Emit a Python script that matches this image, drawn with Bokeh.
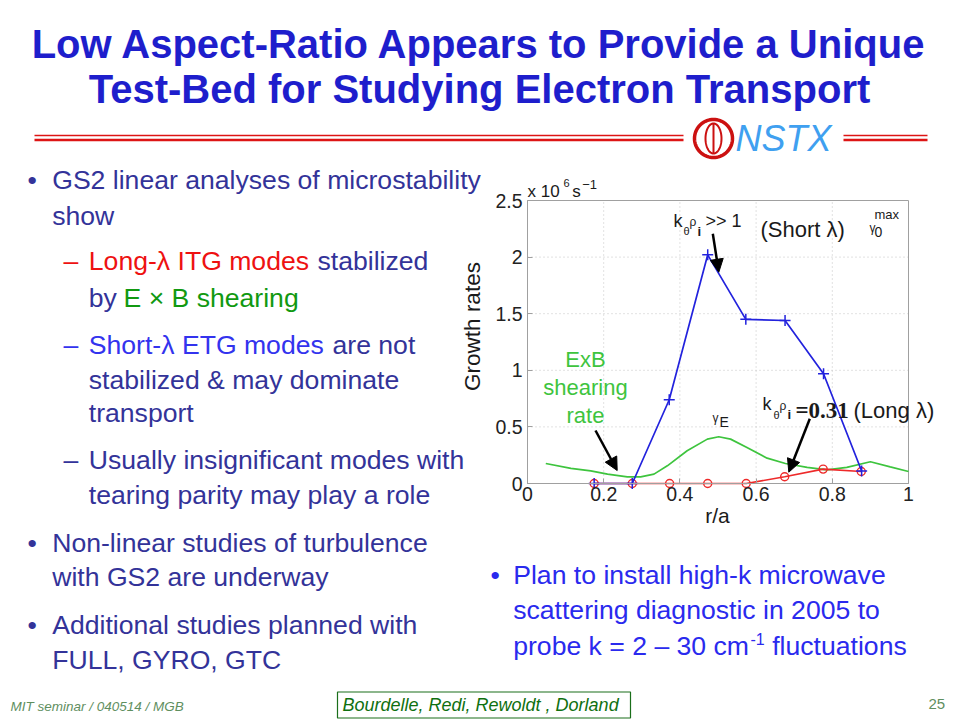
import numpy as np
from bokeh.plotting import figure
from bokeh.models import (Label, Arrow, NormalHead, PolyAnnotation, FixedTicker,
                          LinearAxis, Range1d)
from bokeh.embed import file_html
from bokeh.resources import INLINE

# ---------------- data ----------------
r_short = [0.175, 0.275, 0.372, 0.473, 0.573, 0.676, 0.777, 0.877]
gamma_short = [0.0, 0.0, 0.74, 2.02, 1.45, 1.44, 0.97, 0.11]

r_long = [0.175, 0.275, 0.373, 0.473, 0.574, 0.675, 0.776, 0.876]
gamma_long = [0.0, 0.0, 0.0, 0.0, 0.0, 0.06, 0.127, 0.106]

r_exb = [0.048, 0.114, 0.166, 0.21, 0.262, 0.297, 0.332, 0.367, 0.419, 0.472, 0.502,
         0.533, 0.576, 0.629, 0.677, 0.734, 0.786, 0.838, 0.9, 0.952, 1.0]
gamma_exb = [0.177, 0.133, 0.112, 0.083, 0.059, 0.059, 0.083, 0.156, 0.289, 0.392, 0.413,
             0.392, 0.318, 0.224, 0.177, 0.142, 0.121, 0.142, 0.192, 0.147, 0.106]

x_ticks = [0, 0.2, 0.4, 0.6, 0.8, 1]
x_tick_labels = ["0", "0.2", "0.4", "0.6", "0.8", "1"]
y_ticks = [0, 0.5, 1, 1.5, 2, 2.5]
y_tick_labels = ["0", "0.5", "1", "1.5", "2", "2.5"]

# ---------------- canvas: whole slide, in slide pixels ----------------
W, H = 960, 720
FL, FR, FT, FB = 527, 908, 200, 483   # chart box in slide pixels
XMAX = x_ticks[-1]
YMAX = y_ticks[-1]
SX = (FR - FL) / XMAX
SY = (FB - FT) / YMAX

p = figure(width=W, height=H, x_range=Range1d(0, W), y_range=Range1d(H, 0),
           x_axis_type=None, y_axis_type=None, title=None, min_border=0,
           output_backend="svg", toolbar_location=None)
p.background_fill_color = "white"
p.border_fill_color = "white"
p.outline_line_color = None
p.extra_x_ranges = {"r": Range1d(-FL / SX, (W - FL) / SX)}
p.extra_y_ranges = {"g": Range1d(-(H - FB) / SY, FB / SY)}
CH = dict(x_range_name="r", y_range_name="g")

SANS = "Liberation Sans"
SERIF = "Liberation Serif"
BASE_K = 0.346   # label box is centred on y; shift so that wy is the text baseline


def lab(text, wx, wy, size, color, align="left", style="normal", font=SANS,
        baseline="alphabetic", angle=0.0):
    y = wy - BASE_K * size if baseline == "alphabetic" else wy
    p.add_layout(Label(x=wx, y=y, text=text, text_font=font, text_font_size=f"{size}px",
                       text_color=color, text_align=align, text_baseline=baseline,
                       text_font_style=style, angle=angle))


def poly(pts, fill=None, line=None, lw=1.0):
    p.add_layout(PolyAnnotation(xs=[a for a, b in pts], ys=[b for a, b in pts],
                                fill_color=fill if fill else "white",
                                fill_alpha=1.0 if fill else 0.0,
                                line_color=line if line else "white",
                                line_width=lw, line_alpha=1.0 if line else 0.0))


def rect(x0, x1, y0, y1, color):
    poly([(x0, y0), (x1, y0), (x1, y1), (x0, y1)], fill=color)


def ellipse(cx, cy, rx, ry, n=72):
    t = np.linspace(0, 2 * np.pi, n, endpoint=False)
    return list(zip(cx + rx * np.cos(t), cy + ry * np.sin(t)))


def arrow(x0, y0, x1, y1):
    p.add_layout(Arrow(x_start=x0, y_start=y0, x_end=x1, y_end=y1,
                       line_color="black", line_width=2.5,
                       end=NormalHead(size=13, fill_color="black", line_color="black")))


# ---------------- chart ----------------
AXC = "#a0a0a0"
gx = x_ticks[1:-1]
gy = y_ticks[1:-1]
p.segment(x0=gx, y0=[y_ticks[0]] * len(gx), x1=gx, y1=[YMAX] * len(gx),
          line_color="#c4c4c4", line_dash="1 3", line_width=1, **CH)
p.segment(x0=[x_ticks[0]] * len(gy), y0=gy, x1=[XMAX] * len(gy), y1=gy,
          line_color="#c4c4c4", line_dash="1 3", line_width=1, **CH)
p.quad(left=[x_ticks[0]], right=[XMAX], bottom=[y_ticks[0]], top=[YMAX],
       fill_color=None, line_color=AXC, line_width=1, **CH)

xaxis = LinearAxis(fixed_location=y_ticks[0], bounds=(x_ticks[0], XMAX),
                   ticker=FixedTicker(ticks=x_ticks),
                   major_label_overrides=dict(zip(x_ticks, x_tick_labels)), **CH)
yaxis = LinearAxis(fixed_location=x_ticks[0], bounds=(y_ticks[0], YMAX),
                   ticker=FixedTicker(ticks=y_ticks),
                   major_label_overrides=dict(zip(y_ticks, y_tick_labels)), **CH)
for ax in (xaxis, yaxis):
    ax.axis_line_color = AXC
    ax.major_tick_line_color = AXC
    ax.major_tick_in = 5
    ax.major_tick_out = 0
    ax.minor_tick_line_color = None
    ax.major_label_text_font = SANS
    ax.major_label_text_font_size = "19.5px"
    ax.major_label_text_color = "#222222"
xaxis.major_label_standoff = 3
yaxis.major_label_standoff = 5
p.add_layout(xaxis, "below")
p.add_layout(yaxis, "left")

GREEN_L = "#3ec43e"
RED_L = "#ee2a2a"
BLUE_L = "#2222dd"
p.line(r_exb, gamma_exb, line_color=GREEN_L, line_width=1.7, **CH)
p.line(r_long, gamma_long, line_color=RED_L, line_width=1.6, **CH)
p.scatter(r_long, gamma_long, marker="circle", size=8, line_color=RED_L,
          fill_color=None, line_width=1.4, **CH)
p.line(r_short, gamma_short, line_color=BLUE_L, line_width=1.7, **CH)
p.scatter(r_short, gamma_short, marker="cross", size=11, line_color=BLUE_L,
          line_width=1.5, **CH)

INK = "#1a1a1a"
lab("Growth rates", 472, 326, 22.5, INK, align="center", baseline="middle", angle=np.pi / 2)
lab("r/a", 717, 522, 21, INK, align="center")

lab("x 10", 527, 196.7, 17, INK)
lab("6", 563, 186.7, 11, INK)
lab("s", 571.7, 196.7, 17, INK)
lab("\u22121", 581.7, 188, 13, INK)

lab("k", 673, 227, 18, INK)
lab("\u03b8", 683, 234, 11, INK)
lab("\u03c1", 689, 226, 12, INK)
lab("i", 697, 235, 13, INK, style="bold")
lab(">> 1", 705, 227, 18, INK)
lab("(Short \u03bb)", 760, 236.7, 22, INK)
lab("\u03b3", 869, 232, 12, INK)
lab("0", 874, 236.7, 14, INK)
lab("max", 874, 218, 13, INK)

lab("k", 762, 410, 18, INK)
lab("\u03b8", 773, 418, 11, INK)
lab("\u03c1", 779, 410, 12, INK)
lab("i", 787, 418, 13, INK, style="bold")
lab("=0.31", 795, 418, 23, INK, style="bold", font=SERIF)
lab("(Long \u03bb)", 853, 418, 22, INK)

lab("\u03b3", 712, 422, 12, INK)
lab("E", 719, 426.7, 14, INK)

lab("ExB", 585, 366.7, 22, GREEN_L, align="center")
lab("shearing", 585, 395, 22, GREEN_L, align="center")
lab("rate", 585, 423, 22, GREEN_L, align="center")

arrow(712.3, 233.3, 718.3, 271.7)
arrow(595, 430, 616.7, 470)
arrow(809.3, 418.3, 788.3, 471.7)

# ---------------- slide decoration ----------------
TITLE_C = "#1e1ecc"
lab("Low Aspect-Ratio Appears to Provide a Unique", 479, 57, 40, TITLE_C, align="center", style="bold")
lab("Test-Bed for Studying Electron Transport", 479, 102.5, 40, TITLE_C, align="center", style="bold")

RULE = "#dd1515"
rect(34, 683, 134.3, 135.7, RULE)
rect(34, 683, 138.2, 140.8, RULE)
rect(843, 927, 134.3, 135.7, RULE)
rect(843, 927, 138.2, 140.8, RULE)

LOGO = "#cc1111"
poly(ellipse(713, 138, 19, 19), fill="white", line=LOGO, lw=3.5)
poly(ellipse(713, 138, 8, 15), line=LOGO, lw=2)
rect(712, 714, 123, 153, LOGO)
lab("NSTX", 735, 150, 36, "#3fa0f0", style="italic")

# body text
NAVY = "#333399"
RED = "#ee1111"
GREEN = "#119911"
BLUE = "#3333ee"
BBLUE = "#2a2aee"
FS = 26.6

lab("\u2022", 27, 189, FS, NAVY)
lab("GS2 linear analyses of microstability", 51.7, 189, FS, NAVY)
lab("show", 51.7, 225, FS, NAVY)
lab("\u2013", 63, 270, FS, RED)
lab("Long-\u03bb ITG modes", 88.3, 270, FS, RED)
lab("stabilized", 317, 270, FS, NAVY)
lab("by", 88.3, 306.7, FS, NAVY)
lab("E \u00d7 B shearing", 123, 306.7, FS, GREEN)
lab("\u2013", 63, 353.3, FS, BLUE)
lab("Short-\u03bb ETG modes", 88.3, 353.3, FS, BLUE)
lab("are not", 332, 353.3, FS, NAVY)
lab("stabilized & may dominate", 88.3, 388.3, FS, NAVY)
lab("transport", 88.3, 421.7, FS, NAVY)
lab("\u2013", 63, 468.3, FS, NAVY)
lab("Usually insignificant modes with", 88.3, 468.3, FS, NAVY)
lab("tearing parity may play a role", 88.3, 503.3, FS, NAVY)
lab("\u2022", 27, 551.7, FS, NAVY)
lab("Non-linear studies of turbulence", 51.7, 551.7, FS, NAVY)
lab("with GS2 are underway", 51.7, 586, FS, NAVY)
lab("\u2022", 27, 633.3, FS, NAVY)
lab("Additional studies planned with", 51.7, 633.3, FS, NAVY)
lab("FULL, GYRO, GTC", 51.7, 668.3, FS, NAVY)

lab("\u2022", 490, 583.3, FS, BBLUE)
lab("Plan to install high-k microwave", 512.7, 583.3, FS, BBLUE)
lab("scattering diagnostic in 2005 to", 512.7, 618.3, FS, BBLUE)
lab("probe k = 2 \u2013 30 cm", 512.7, 655, FS, BBLUE)
lab("-1", 750, 644, 16, BBLUE)
lab("fluctuations", 771.7, 655, FS, BBLUE)

# footer
FOOT = "#5f8f5f"
lab("MIT seminar / 040514 / MGB", 10, 711, 13.5, FOOT, style="italic")
lab("25", 928, 709, 15, FOOT)
poly([(337, 691.5), (630, 691.5), (630, 717.5), (337, 717.5)], line="#1a6e1a", lw=1.2)
lab("Bourdelle, Redi, Rewoldt , Dorland", 342, 710.5, 18, "#107010", style="italic")

open("out.html", "w").write(file_html(p, INLINE))
